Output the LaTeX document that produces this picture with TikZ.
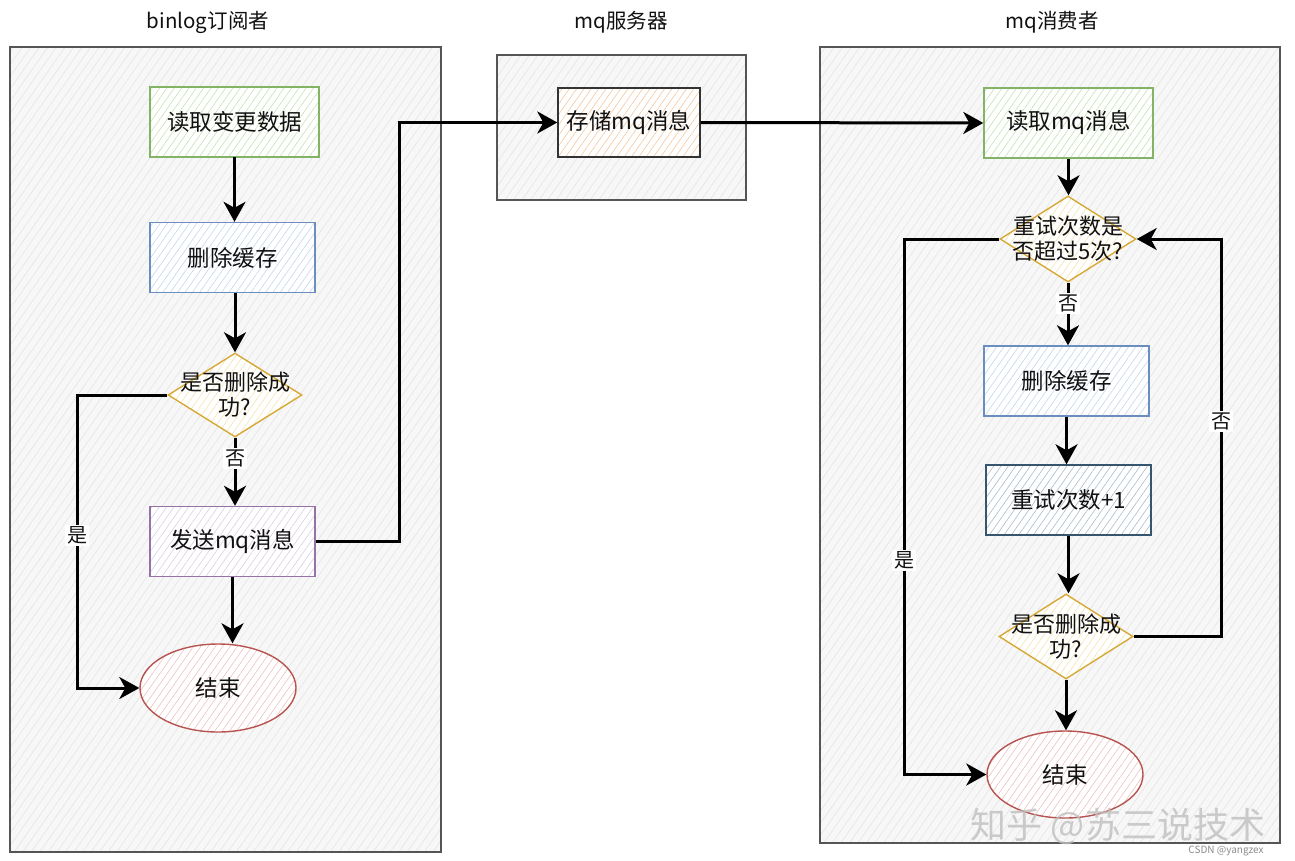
\documentclass[tikz,border=0pt]{standalone}
\usepackage{fontspec}
\setmainfont{Noto Sans CJK SC}
\usetikzlibrary{arrows.meta,patterns.meta,shapes.geometric}
\definecolor{gborder}{HTML}{82B366}
\definecolor{ghatch}{HTML}{C5E3B5}
\definecolor{bborder}{HTML}{6C8EBF}
\definecolor{bhatch}{HTML}{C5D6EE}
\definecolor{yborder}{HTML}{D6A936}
\definecolor{yhatch}{HTML}{F5E3B0}
\definecolor{pborder}{HTML}{9673A6}
\definecolor{phatch}{HTML}{DCCDE6}
\definecolor{rborder}{HTML}{B85450}
\definecolor{rhatch}{HTML}{EBC3C1}
\definecolor{ohatch}{HTML}{F5C8A0}
\definecolor{tborder}{HTML}{35566E}
\definecolor{thatch}{HTML}{A9BCCB}
\definecolor{cborder}{HTML}{555555}
\definecolor{chatch}{HTML}{E2E2E2}
\definecolor{txt}{HTML}{111111}
\tikzset{
  hatch/.style={preaction={fill=white},pattern={Lines[angle=55,distance=6pt,line width=0.6pt]},pattern color=#1},
  chatch/.style={preaction={fill=white!97!black},pattern={Lines[angle=55,distance=7pt,line width=0.5pt]},pattern color=chatch},
  container/.style={draw=cborder,line width=1.4pt,chatch,inner sep=0pt},
  proc/.style={draw=#1,line width=1.4pt,minimum width=166pt,minimum height=70pt,inner sep=0pt,text=txt,font=\fontsize{22.5}{26}\selectfont},
  decision/.style={diamond,draw=yborder,line width=1.4pt,hatch=yhatch,inner sep=0pt,minimum width=134pt,minimum height=84pt},
  dtext/.style={align=center,text=txt,font=\fontsize{22}{25}\selectfont},
  terminal/.style={ellipse,draw=rborder,line width=1.4pt,hatch=rhatch,minimum width=156pt,minimum height=88pt,text=txt,font=\fontsize{22.5}{26}\selectfont},
  title/.style={text=txt,font=\fontsize{20.5}{24}\selectfont},
  arr/.style={-{Stealth[length=20pt,width=22pt,inset=6pt]},line width=3pt,black},
  lbl/.style={fill=white,inner sep=2pt,text=txt,font=\fontsize{20}{24}\selectfont},
}
\begin{document}
\begin{tikzpicture}[x=1pt,y=-1pt]
\useasboundingbox[fill=white] (0,0) rectangle (1295,860);
% containers
\node[container,minimum width=431pt,minimum height=805pt] (c1) at (225.5,449.5) {};
\node[container,minimum width=249pt,minimum height=145pt] (c2) at (621.5,127.5) {};
\node[container,minimum width=460pt,minimum height=796pt] (c3) at (1050,445) {};
\node[title] (t1) at (208,22) {binlog订阅者};
\node[title] (t2) at (621,22) {mq服务器};
\node[title] (t3) at (1052,22) {mq消费者};
% left column
\node[proc=gborder,hatch=ghatch,minimum width=169pt] (read1) at (234.5,122) {读取变更数据};
\node[proc=bborder,hatch=bhatch,minimum width=165pt] (del1) at (232.5,257.5) {删除缓存};
\node[decision,label={[dtext]center:是否删除成\\功?}] (dia1) at (235,395) {};
\node[proc=pborder,hatch=phatch,minimum width=165pt] (send) at (232.5,541.5) {发送mq消息};
\node[terminal] (end1) at (218,688) {结束};
% middle
\node[proc=black!80,hatch=ohatch,minimum width=142pt,minimum height=69pt] (store) at (629,122.5) {存储mq消息};
% right column
\node[proc=gborder,hatch=ghatch,minimum width=169pt] (read2) at (1068.5,123) {读取mq消息};
\node[decision,minimum width=136pt,minimum height=86pt,label={[dtext]center:重试次数是\\否超过5次?}] (dia2) at (1068,239) {};
\node[proc=bborder,hatch=bhatch,minimum width=165pt] (del2) at (1066.5,381) {删除缓存};
\node[proc=tborder,hatch=thatch,minimum width=165pt] (inc) at (1068.5,500) {重试次数+1};
\node[decision,minimum width=134pt,minimum height=85pt,label={[dtext]center:是否删除成\\功?}] (dia3) at (1066,636.5) {};
\node[terminal,minimum height=87pt] (end2) at (1065,774.5) {结束};
% turn points
\coordinate (yes1) at (77,395);
\coordinate (sendturn) at (399,541.5);
\coordinate (yes2) at (904,239);
\coordinate (no2) at (1221,636.5);
% left connectors
\draw[arr] (read1.south) -- (read1.south |- del1.north);
\draw[arr] (dia1.north |- del1.south) -- (dia1.north);
\draw[arr] (dia1.south) -- node[lbl,pos=0.3]{否} (dia1.south |- send.north);
\draw[arr] (send.south) -- (send.south |- end1.north);
\draw[arr] (dia1.west) -- (yes1) |- node[lbl,pos=0.24]{是} (end1.west);
\draw[arr] (send.east) -- (sendturn) |- (store.west);
% middle to right
\draw[arr] (store.east) -- (read2.west);
% right connectors
\draw[arr] (read2.south) -- (read2.south |- dia2.north);
\draw[arr] (dia2.south) -- node[lbl,pos=0.33]{否} (dia2.south |- del2.north);
\draw[arr] (del2.south) -- (del2.south |- inc.north);
\draw[arr] (inc.south) -- (inc.south |- dia3.north);
\draw[arr] (dia3.south) -- (dia3.south |- end2.north);
\draw[arr] (dia2.west) -- (yes2) |- node[lbl,pos=0.3]{是} (end2.west);
\draw[arr] (dia3.east) -- (no2) |- node[lbl,pos=0.27]{否} (dia2.east);
% watermarks
\node[text=black!25,opacity=0.8,font=\fontsize{36}{40}\selectfont,inner sep=0pt] (wm1) at (1118,826) {知乎 @苏三说技术};
\node[text=black!45,font=\fontsize{10}{12}\selectfont,inner sep=0pt] (wm2) at (1226,851) {CSDN @yangzex};
\end{tikzpicture}
\end{document}
